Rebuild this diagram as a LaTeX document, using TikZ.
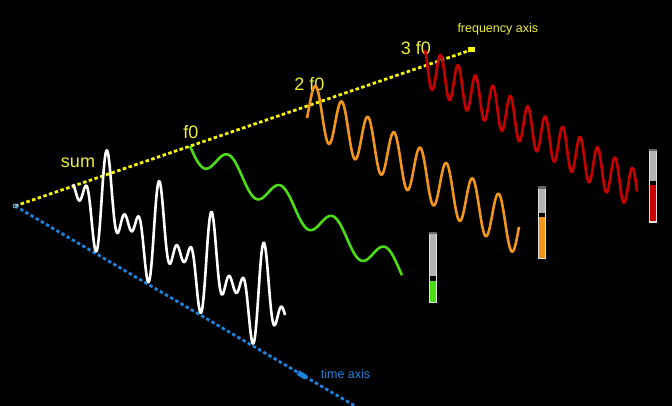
\documentclass[tikz,border=0pt]{standalone}
\usepackage{fontspec}
\setmainfont{Liberation Sans}
\definecolor{axisyellow}{RGB}{250,250,0}
\definecolor{labelyellow}{RGB}{238,238,60}
\definecolor{axisblue}{RGB}{30,130,220}
\definecolor{wavegreen}{RGB}{75,220,20}
\definecolor{waveorange}{RGB}{240,150,25}
\definecolor{wavered}{RGB}{200,0,0}
\definecolor{bargray}{RGB}{178,178,178}
\definecolor{barrim}{RGB}{225,225,225}
\begin{document}
\begin{tikzpicture}[x=1pt,y=-1pt,
  declare function={wg(\t)=-14*sin(deg(0.1201*\t));
    wo(\t)=25*sin(deg(0.2402*\t-0.5));
    wr(\t)=20*sin(deg(0.3603*\t+2.214));},
  axisline/.style={line width=2.8pt,dash pattern=on 3.5pt off 2.5pt},
  wave/.style={line width=2.6pt,line join=round,domain=0:212,samples=#1},
  biglabel/.style={text=labelyellow,inner sep=0pt,anchor=base,font=\fontsize{18}{18}\selectfont},
  smalllabel/.style={inner sep=0pt,anchor=base west,font=\fontsize{12.5}{12.5}\selectfont}]
\fill[black] (0,0) rectangle (672,406);
\useasboundingbox (0,0) rectangle (672,406);
\clip (0,0) rectangle (672,406);
\coordinate (O) at (15,206); \coordinate (F) at (471,50); \coordinate (T) at (302,375); \coordinate (Tend) at (372,416);
\draw[axisline,axisyellow] (O)--(F);
\draw[axisline,axisblue] (O)--(Tend);
\fill[axisyellow] (F) ++(-3.5,-2.5) rectangle ++(7,5);
\draw[axisblue,line width=5pt] (T) ++(-4,-2.35) -- ++(8,4.7);
\draw[axisblue!60,line width=0.8pt] (O) circle (2pt);
\node[smalllabel,text=labelyellow] (faxis) at (457.3,32.7) {frequency axis};
\node[smalllabel,text=axisblue] (taxis) at (320.7,378.5) {time axis};
\node[biglabel] (sum) at (78,168) {sum};
\node[biglabel] (f1) at (190.8,138.3) {f0};
\node[biglabel] (f2) at (309.5,91) {2 f0};
\node[biglabel] (f3) at (416,55) {3 f0};
\draw[wave=500,white] plot ({73+\x},{188.5+0.588*\x-1.06*(wg(\x)+wo(\x)+wr(\x))});
\draw[wave=250,wavegreen] plot ({190+\x},{146.1+0.588*\x-wg(\x)});
\draw[wave=350,waveorange] plot ({307+\x},{106.1+0.588*\x-wo(\x)});
\draw[wave=450,wavered] plot ({425+\x},{65.8+0.588*\x-wr(\x)});
\foreach \bx/\btop/\bblk/\bbot/\bcol in {429/232/276/303.3/wavegreen,537.5/186.3/212.7/259.3/waveorange,649/149/181/222.7/wavered}{
  \fill[barrim] (\bx,\btop) rectangle (\bx+8,\bbot);
  \fill[bargray] (\bx+1,\btop) rectangle (\bx+7,\bblk);
  \fill[gray!80!black] (\bx,\btop) rectangle (\bx+8,\btop+2.5);
  \fill[black] (\bx+1,\bblk) rectangle (\bx+7,\bblk+4.5);
  \fill[\bcol] (\bx+1,\bblk+4.5) rectangle (\bx+7,\bbot-1.2);
}
\end{tikzpicture}
\end{document}
